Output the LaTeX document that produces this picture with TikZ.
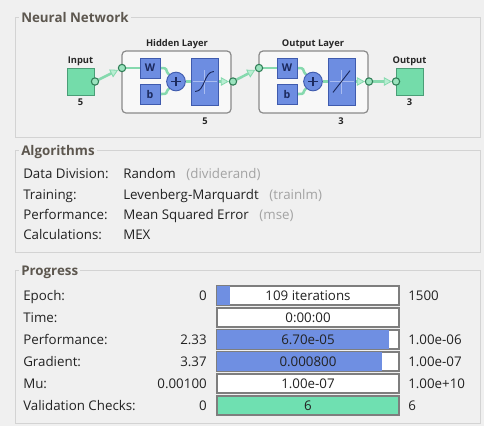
\documentclass[tikz,border=0pt]{standalone}
\usepackage{fontspec}
\setmainfont{Open Sans}
\usetikzlibrary{arrows.meta}

\definecolor{panelbg}{HTML}{F0F0F0}
\definecolor{groupline}{HTML}{D3D3D3}
\definecolor{grouptitle}{HTML}{5D574F}
\definecolor{mint}{HTML}{74DCAA}
\definecolor{mintline}{HTML}{4A9E77}
\definecolor{wire}{HTML}{86D9AE}
\definecolor{wirelight}{HTML}{B8EED2}
\definecolor{portdark}{HTML}{2F7D56}
\definecolor{portfill}{HTML}{9BE3BE}
\definecolor{netblue}{HTML}{6D8DE1}
\definecolor{netbluedark}{HTML}{3F5BAE}
\definecolor{iconaxis}{HTML}{A9BCF0}
\definecolor{navy}{HTML}{1C2A5E}
\definecolor{layerline}{HTML}{8A8A8A}
\definecolor{layerfill}{HTML}{F8F8F8}
\definecolor{note}{HTML}{A3A3A3}
\definecolor{txt}{HTML}{222222}
\definecolor{barline}{HTML}{7E7E7E}
\definecolor{barblue}{HTML}{6F8FE2}
\definecolor{bargreen}{HTML}{6FE0B1}

\pgfdeclarelayer{back}
\pgfsetlayers{back,main}

\begin{document}
\begin{tikzpicture}[x=0.75pt,y=-0.75pt,
  lbl/.style={font=\fontsize{10}{12}\selectfont, text=txt, inner sep=0pt},
  gtitle/.style={font=\fontsize{10}{12}\selectfont\bfseries, text=grouptitle,
    fill=panelbg, inner xsep=1.5pt, inner ysep=0.5pt},
  groupbox/.style={draw=groupline, line width=0.7pt},
  dlbl/.style={font=\fontsize{7}{8}\selectfont\bfseries, text=black!85, inner sep=0pt},
  iobox/.style={draw=mintline, fill=mint, line width=0.5pt, minimum size=20pt, inner sep=0pt},
  layerbox/.style={draw=layerline, fill=layerfill, line width=0.9pt, rounded corners=3pt,
    minimum width=81.75pt, minimum height=46.5pt, inner sep=0pt},
  wbox/.style={draw=netbluedark, fill=netblue, line width=0.5pt, minimum size=15pt,
    inner sep=0pt, font=\fontsize{8}{9}\selectfont\bfseries, text=navy},
  sumnode/.style={circle, draw=netbluedark, fill=netblue, line width=0.7pt,
    minimum size=14pt, inner sep=0pt,
    path picture={\draw[navy, line width=0.8pt]
      ([xshift=-3.6pt]path picture bounding box.center) -- ([xshift=3.6pt]path picture bounding box.center)
      ([yshift=-3.6pt]path picture bounding box.center) -- ([yshift=3.6pt]path picture bounding box.center);}},
  tfbox/.style={draw=netbluedark, fill=netblue, line width=0.5pt,
    minimum width=20.25pt, minimum height=35.25pt, inner sep=0pt},
  sigicon/.style={tfbox, path picture={
    \draw[iconaxis, line width=0.4pt]
      ([xshift=-9pt]path picture bounding box.center) -- ([xshift=9pt]path picture bounding box.center)
      ([yshift=-9pt]path picture bounding box.center) -- ([yshift=9pt]path picture bounding box.center);
    \draw[navy, line width=0.7pt]
      ([shift={(-7pt,-7.5pt)}]path picture bounding box.center)
      .. controls ([shift={(0.5pt,-7.5pt)}]path picture bounding box.center)
      and ([shift={(-0.5pt,7.5pt)}]path picture bounding box.center)
      .. ([shift={(7pt,7.5pt)}]path picture bounding box.center);}},
  linicon/.style={tfbox, path picture={
    \draw[iconaxis, line width=0.4pt]
      ([xshift=-9pt]path picture bounding box.center) -- ([xshift=9pt]path picture bounding box.center)
      ([yshift=-9pt]path picture bounding box.center) -- ([yshift=9pt]path picture bounding box.center);
    \draw[navy, line width=0.7pt]
      ([shift={(-6.4pt,-8.2pt)}]path picture bounding box.center)
      -- ([shift={(6.4pt,8.2pt)}]path picture bounding box.center);}},
  port/.style={circle, draw=portdark, fill=portfill, line width=0.8pt,
    minimum size=5.5pt, inner sep=0pt},
  wireline/.style={draw=wire, line width=1.9pt},
  wirearrow/.style={wireline, -{Triangle[length=6pt, width=6.5pt, fill=wirelight, line width=0.6pt]}},
  barframe/.style={draw=barline, fill=white, line width=0.9pt,
    minimum width=136.5pt, minimum height=14.25pt, inner sep=0pt},
  barfill/.style={fill=barblue}
]

% ---------- panel background and group frames ----------
\begin{pgfonlayer}{back}
  \fill[panelbg] (0,0) rectangle (484,426);
  \draw[groupbox] (15,17) rectangle (480,137);
  \draw[groupbox] (15,150) rectangle (480,252);
  \draw[groupbox] (15,270) rectangle (480,423);
  \node[layerbox] (hid) at (176.5,82) {};
  \node[layerbox] (outl) at (313.5,82) {};
\end{pgfonlayer}
\useasboundingbox (0,0) rectangle (484,426);

\node[gtitle, anchor=base west] (tNN) at (19,22) {Neural Network};
\node[gtitle, anchor=base west] (tAlg) at (19,155) {Algorithms};
\node[gtitle, anchor=base west] (tProg) at (19,275) {Progress};

% ---------- network diagram ----------
\node[iobox] (in) at (80.5,81.5) {};
\node[dlbl, anchor=base] (inT) at (80.5,63) {Input};
\node[dlbl, anchor=base] (inN) at (80.5,105) {5};

\node[dlbl, anchor=base] (hidT) at (177,46) {Hidden Layer};
\node[dlbl, anchor=base] (hidN) at (205,124) {5};
\node[wbox] (hW) at (150,68) {W};
\node[wbox] (hB) at (150,94) {b};
\node[sumnode] (hS) at (176,81.5) {};
\node[sigicon] (hF) at (204.5,81.5) {};

\node[dlbl, anchor=base] (outT) at (313,46) {Output Layer};
\node[dlbl, anchor=base] (outN) at (341,124) {3};
\node[wbox] (oW) at (287,68) {W};
\node[wbox] (oB) at (287,94) {b};
\node[sumnode] (oS) at (313,81.5) {};
\node[linicon] (oF) at (341.5,81.5) {};

\node[iobox] (out) at (409.5,81.5) {};
\node[dlbl, anchor=base] (outbT) at (409.5,63) {Output};
\node[dlbl, anchor=base] (outbN) at (409.5,105) {3};

\node[port] (p0) at (95,81.5) {};
\node[port] (p1) at (122,68) {};
\node[port] (p2) at (233,81.5) {};
\node[port] (p3) at (259,68) {};
\node[port] (p4) at (369,81.5) {};
\node[port] (p5) at (396,81.5) {};

\begin{pgfonlayer}{back}
  \draw[wirearrow] (p0) -- (p1);
  \draw[wireline] (p1) -- (hW.west);
  \draw[wireline] (hW.east) .. controls +(9,0) and +(-5,-5) .. (hS.135);
  \draw[wireline] (hB.east) .. controls +(9,0) and +(-5,5) .. (hS.225);
  \draw[wireline] (hS.east) -- (hF.west);
  \draw[wirearrow] (hF.east) -- (p2);
  \draw[wirearrow] (p2) -- (p3);
  \draw[wireline] (p3) -- (oW.west);
  \draw[wireline] (oW.east) .. controls +(9,0) and +(-5,-5) .. (oS.135);
  \draw[wireline] (oB.east) .. controls +(9,0) and +(-5,5) .. (oS.225);
  \draw[wireline] (oS.east) -- (oF.west);
  \draw[wirearrow] (oF.east) -- (p4);
  \draw[wirearrow] (p4) -- (p5);
\end{pgfonlayer}

% ---------- algorithms ----------
\node[lbl, anchor=base west] (aL1) at (23,178) {Data Division:};
\node[lbl, anchor=base west] (aL2) at (23,199) {Training:};
\node[lbl, anchor=base west] (aL3) at (23,219) {Performance:};
\node[lbl, anchor=base west] (aL4) at (23,239) {Calculations:};
\node[lbl, anchor=base west] (aV1) at (123,178) {Random\hspace{8pt}\textcolor{note}{(dividerand)}};
\node[lbl, anchor=base west] (aV2) at (123,199) {Levenberg-Marquardt\hspace{8pt}\textcolor{note}{(trainlm)}};
\node[lbl, anchor=base west] (aV3) at (123,219) {Mean Squared Error\hspace{8pt}\textcolor{note}{(mse)}};
\node[lbl, anchor=base west] (aV4) at (123,239) {MEX};

% ---------- progress ----------
\node[barframe] (bE) at (308,295.5) {};
\fill[barfill] ([shift={(0.45pt,-0.45pt)}]bE.north west) rectangle ([shift={(10.5pt,0.45pt)}]bE.south west);
\node[barframe] (bT) at (308,317.5) {};
\node[barframe] (bP) at (308,339.5) {};
\fill[barfill] ([shift={(0.45pt,-0.45pt)}]bP.north west) rectangle ([shift={(129.75pt,0.45pt)}]bP.south west);
\node[barframe] (bG) at (308,361.5) {};
\fill[barfill] ([shift={(0.45pt,-0.45pt)}]bG.north west) rectangle ([shift={(124.5pt,0.45pt)}]bG.south west);
\node[barframe] (bM) at (308,383.5) {};
\node[barframe, fill=bargreen] (bV) at (308,405.5) {};

\node[lbl, anchor=base] (tE) at (308,300.5) {109 iterations};
\node[lbl, anchor=base] (tT) at (308,322.5) {0:00:00};
\node[lbl, anchor=base] (tP) at (308,344.5) {6.70e-05};
\node[lbl, anchor=base] (tG) at (308,366.5) {0.000800};
\node[lbl, anchor=base] (tM) at (308,388.5) {1.00e-07};
\node[lbl, anchor=base] (tV) at (308,410.5) {6};

\node[lbl, anchor=base west] (lE) at (23,300.5) {Epoch:};
\node[lbl, anchor=base west] (lT) at (23,322.5) {Time:};
\node[lbl, anchor=base west] (lP) at (23,344.5) {Performance:};
\node[lbl, anchor=base west] (lG) at (23,366.5) {Gradient:};
\node[lbl, anchor=base west] (lM) at (23,388.5) {Mu:};
\node[lbl, anchor=base west] (lV) at (23,410.5) {Validation Checks:};

\node[lbl, anchor=base east] (sE) at (207,300.5) {0};
\node[lbl, anchor=base east] (sP) at (207,344.5) {2.33};
\node[lbl, anchor=base east] (sG) at (207,366.5) {3.37};
\node[lbl, anchor=base east] (sM) at (207,388.5) {0.00100};
\node[lbl, anchor=base east] (sV) at (207,410.5) {0};

\node[lbl, anchor=base west] (eE) at (408,300.5) {1500};
\node[lbl, anchor=base west] (eP) at (408,344.5) {1.00e-06};
\node[lbl, anchor=base west] (eG) at (408,366.5) {1.00e-07};
\node[lbl, anchor=base west] (eM) at (408,388.5) {1.00e+10};
\node[lbl, anchor=base west] (eV) at (408,410.5) {6};

\end{tikzpicture}
\end{document}
